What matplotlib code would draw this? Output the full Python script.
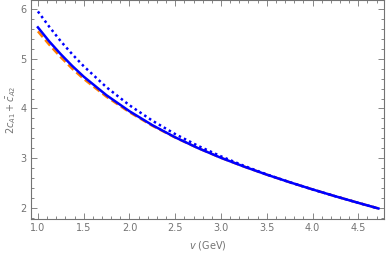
import matplotlib
matplotlib.use("Agg")
import matplotlib.pyplot as plt
from matplotlib.ticker import MultipleLocator
import numpy as np

v = [1.0, 1.125, 1.25, 1.375, 1.5, 1.75, 2.0, 2.25, 2.5, 2.75, 3.0, 3.25, 3.5, 3.75, 4.0, 4.25, 4.5, 4.72]
solid = [5.63, 5.345, 5.09, 4.855, 4.64, 4.265, 3.945, 3.665, 3.42, 3.203, 3.008, 2.833, 2.670, 2.518, 2.373, 2.235, 2.103, 1.99]
dotted = [5.95, 5.64, 5.35, 5.09, 4.85, 4.425, 4.065, 3.755, 3.485, 3.248, 3.038, 2.848, 2.675, 2.518, 2.373, 2.235, 2.103, 1.99]
orange = [5.55, 5.28, 5.03, 4.80, 4.595, 4.235, 3.925, 3.653, 3.415, 3.203, 3.008, 2.833, 2.670, 2.518, 2.373, 2.235, 2.103, 1.99]

gray = (0.45, 0.45, 0.45)
fig = plt.figure(figsize=(3.87, 2.6), dpi=100)
ax = fig.add_axes([0.080, 0.158, 0.912, 0.842])

ax.plot(v, orange, color=(1.0, 0.5, 0.0), lw=1.8, ls=(0, (3, 1.5)))
ax.plot(v, solid, color=(0.0, 0.0, 1.0), lw=1.8)
ax.plot(v, dotted, color=(0.0, 0.0, 1.0), lw=1.8, ls=(0, (1, 1.3)))

ax.set_xlim(0.924, 4.78)
ax.set_ylim(1.78, 6.18)
ax.xaxis.set_major_locator(MultipleLocator(0.5))
ax.xaxis.set_minor_locator(MultipleLocator(0.1))
ax.yaxis.set_major_locator(MultipleLocator(1))
ax.yaxis.set_minor_locator(MultipleLocator(0.2))
ax.set_xticks(np.arange(1.0, 4.51, 0.5))
ax.set_xticklabels([f"{t:.1f}" for t in np.arange(1.0, 4.51, 0.5)])

ax.tick_params(which='both', direction='in', top=True, right=True, color=gray,
               labelcolor=gray, labelsize=7, width=0.6, pad=3)
ax.tick_params(which='major', length=4)
ax.tick_params(which='minor', length=2)
for s in ax.spines.values():
    s.set_color(gray)
    s.set_linewidth(0.8)

ax.set_xlabel(r'$v$ (GeV)', color=gray, fontsize=7, labelpad=4)
ax.set_ylabel(r'$2c_{A1}+\bar{c}_{A2}$', color=gray, fontsize=7, labelpad=2)

fig.savefig("out.png", dpi=100)
